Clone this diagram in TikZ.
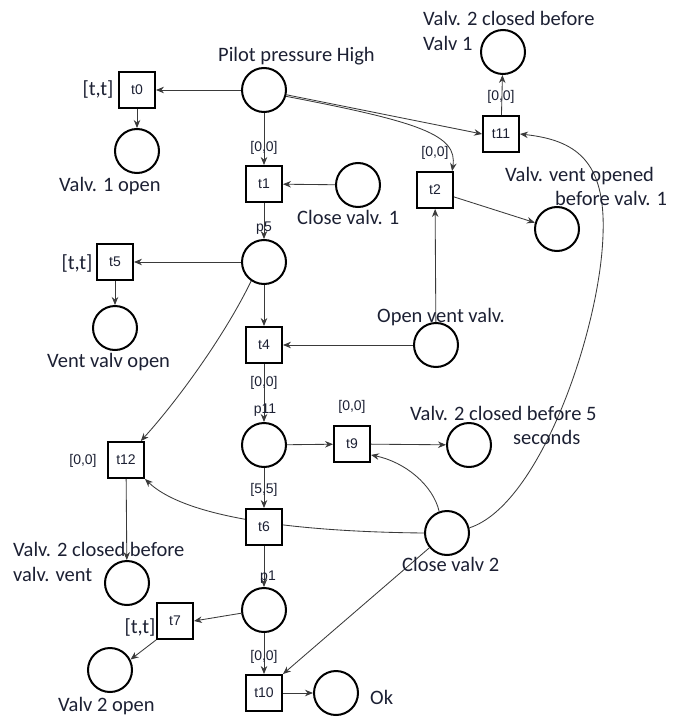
\documentclass[tikz,border=0pt]{standalone}
\usepackage{fontspec}
\setmainfont{Carlito}
\newfontfamily\smallfont{Liberation Sans}
\usetikzlibrary{arrows.meta}
\definecolor{txt}{HTML}{1C2033}
\definecolor{edge}{HTML}{3A3A3A}
\tikzset{
  place/.style={circle, draw=black, line width=2pt, minimum size=44pt, inner sep=0pt},
  trans/.style={rectangle, draw=black, line width=1.9pt, fill=white, minimum size=36pt,
                inner sep=0pt, font=\smallfont\fontsize{14}{16}\selectfont, text=txt},
  arc/.style={draw=edge, line width=0.85pt, -{Stealth[length=8pt,width=6.5pt]}},
  lbl/.style={inner sep=0pt, font=\fontsize{20.5}{24}\selectfont, text=txt},
  tag/.style={inner sep=0pt, font=\smallfont\fontsize{14}{16}\selectfont, text=txt},
}
\begin{document}
\begin{tikzpicture}[x=1pt,y=-1pt]
\useasboundingbox (0,0) rectangle (672,717);

% places
\node[place] (pilot) at (264,90) {};
\node[place] (v1o)   at (137,151) {};
\node[place] (cv1)   at (358,185) {};
\node[place] (v2cv1) at (503,52) {};
\node[place] (vo)    at (557,229) {};
\node[place] (p5)    at (264,262) {};
\node[place] (vvo)   at (115,328) {};
\node[place] (ovv)   at (436,345) {};
\node[place] (p11)   at (264,445) {};
\node[place] (v2c5)  at (469,445) {};
\node[place] (cv2)   at (447,533) {};
\node[place] (v2cvv) at (127,583) {};
\node[place] (p1)    at (264,610) {};
\node[place] (v2o)   at (110,670) {};
\node[place] (ok)    at (336,693) {};

% transitions
\node[trans] (t0)  at (137,90)  {t0};
\node[trans] (t1)  at (264,184) {t1};
\node[trans] (t11) at (501,134) {t11};
\node[trans] (t2)  at (435,190) {t2};
\node[trans] (t5)  at (115,262) {t5};
\node[trans] (t4)  at (264,345) {t4};
\node[trans] (t12) at (126,460) {t12};
\node[trans] (t9)  at (352,444) {t9};
\node[trans] (t6)  at (264,527) {t6};
\node[trans] (t7)  at (175,621) {t7};
\node[trans] (t10) at (264,693) {t10};

% arcs
\draw[arc] (pilot) -- (t0);
\draw[arc] (t0) -- (v1o);
\draw[arc] (pilot) -- (t1);
\draw[arc] (cv1) -- (t1);
\draw[arc] (pilot.-12) -- (t11.west);
\draw[arc] (pilot.-16) .. controls (420,122) and (458,135) .. (t2.48);
\draw[arc] (t11) -- (v2cv1);
\draw[arc] (t1) -- (p5);
\draw[arc] (t2.-20) -- (vo.164);
\draw[arc] (ovv) -- (t2);
\draw[arc] (p5) -- (t5);
\draw[arc] (t5) -- (vvo);
\draw[arc] (p5) -- (t4);
\draw[arc] (ovv) -- (t4);
\draw[arc] (p5.236) .. controls (225,335) and (178,400) .. (t12.52);
\draw[arc] (t4) -- (p11);
\draw[arc] (p11) -- (t9);
\draw[arc] (t9) -- (v2c5);
\draw[arc] (p11) -- (t6);
\draw[arc] (t12) -- (v2cvv);
\draw[arc] (t6) -- (p1);
\draw[arc] (p1.188) -- (t7.east);
\draw[arc] (t7.south west) -- (v2o.27);
\draw[arc] (p1) -- (t10);
\draw[arc] (t10) -- (ok);
\coordinate (bend) at (603,235);
\draw[arc] (cv2.13) .. controls (540,505) and (600,330) .. (bend)
           .. controls (606,160) and (575,140) .. (t11.east);
\draw[arc] (cv2.110) .. controls (433,485) and (405,462) .. (t9.-30);
\draw[arc] (cv2.220) -- (t10.north east);
% this arc runs behind t6, so t6 is redrawn on top
\draw[arc] (cv2.west) .. controls (320,532) and (190,522) .. (t12.south east);
\node[trans] at (t6) {t6};

% place and timing labels
\node[lbl, anchor=base west] (lpilot) at (218,61) {Pilot pressure High};
\node[lbl, anchor=base west] (lv1o)   at (59,191) {Valv. 1 open};
\node[lbl, anchor=base west] (lcv1)   at (297,224) {Close valv. 1};
\node[lbl, anchor=base west] (lv2a)   at (423,26) {Valv. 2 closed before};
\node[lbl, anchor=base west] (lv2b)   at (423,51) {Valv 1};
\node[lbl, anchor=base west] (lvoa)   at (505,181) {Valv. vent opened};
\node[lbl, anchor=base west] (lvob)   at (555,205) {before valv. 1};
\node[lbl, anchor=base west] (lvvo)   at (47,367) {Vent valv open};
\node[lbl, anchor=base west] (lovv)   at (377,322) {Open vent valv.};
\node[lbl, anchor=base west] (l5a)    at (410,420) {Valv. 2 closed before 5};
\node[lbl, anchor=base west] (l5b)    at (513,444) {seconds};
\node[lbl, anchor=base west] (lvva)   at (13,556) {Valv. 2 closed before};
\node[lbl, anchor=base west] (lvvb)   at (13,581) {valv. vent};
\node[lbl, anchor=base west] (lcv2)   at (402,571) {Close valv 2};
\node[lbl, anchor=base west] (lv2o)   at (58,711) {Valv 2 open};
\node[lbl, anchor=base west] (lok)    at (370,704) {Ok};
\node[lbl] (tt0) at (98,89)   {[t,t]};
\node[lbl] (tt5) at (77,263)  {[t,t]};
\node[lbl] (tt7) at (140,627) {[t,t]};

\node[tag] (i1)  at (264,148) {[0,0]};
\node[tag] (i11) at (501,97)  {[0,0]};
\node[tag] (i2)  at (435,153) {[0,0]};
\node[tag] (i4)  at (264,383) {[0,0]};
\node[tag] (i9)  at (352,407) {[0,0]};
\node[tag] (i12) at (83,461)  {[0,0]};
\node[tag] (i6)  at (264,490) {[5,5]};
\node[tag] (i10) at (264,657) {[0,0]};
\node[tag, anchor=base] (np5)  at (264,231) {p5};
\node[tag, anchor=base] (np11) at (265,413) {p11};
\node[tag, anchor=base] (np1)  at (268,580) {p1};
\end{tikzpicture}
\end{document}
